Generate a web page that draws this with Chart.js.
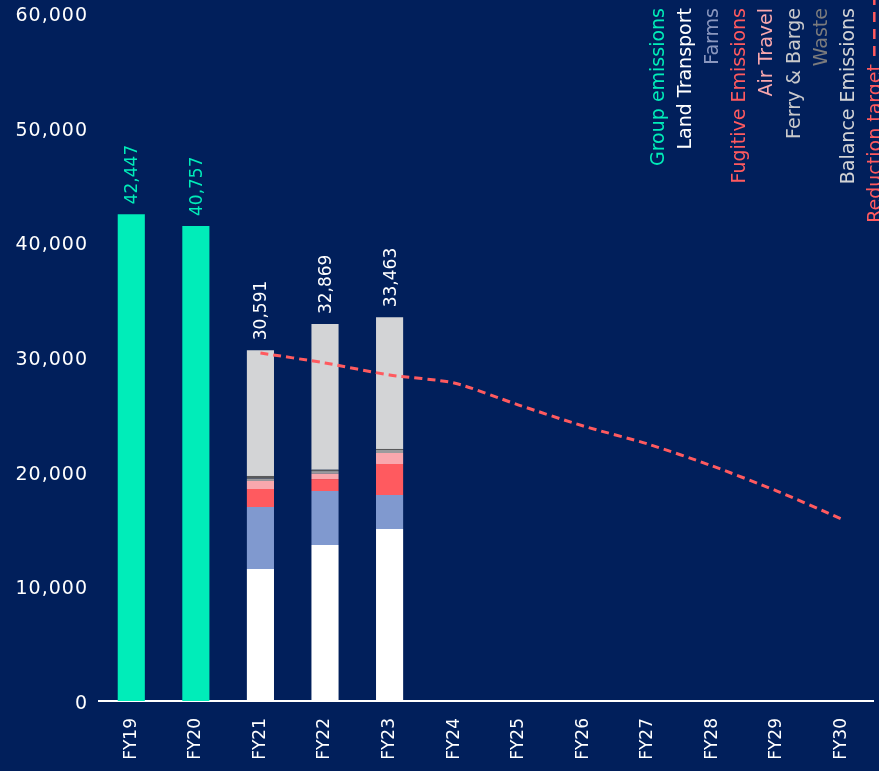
<!DOCTYPE html>
<html lang="en">
<head>
<meta charset="UTF-8">
<title>Group emissions</title>
<script src="https://cdn.jsdelivr.net/npm/chart.js"></script>
<style>
  body { margin: 0; background: #011f5b; }
  #wrap { width: 879px; height: 771px; }
</style>
</head>
<body>
<div id="wrap"><canvas id="emissions"></canvas></div>
<script>
// values (tCO2e)
const years = ['FY19', 'FY20', 'FY21', 'FY22', 'FY23', 'FY24', 'FY25', 'FY26', 'FY27', 'FY28', 'FY29', 'FY30'];
const groupEmissions   = [42447, 41425, null, null, null, null, null, null, null, null, null, null];
const landTransport    = [null, null, 11510, 13600, 15000, null, null, null, null, null, null, null];
const farms            = [null, null, 5410, 4710, 2965, null, null, null, null, null, null, null];
const fugitive         = [null, null, 1570, 1045, 2705, null, null, null, null, null, null, null];
const airTravel        = [null, null, 700, 460, 960, null, null, null, null, null, null, null];
const ferryBarge       = [null, null, 200, 235, 260, null, null, null, null, null, null, null];
const waste            = [null, null, 235, 115, 90, null, null, null, null, null, null, null];
const balance          = [null, null, 10966, 12704, 11483, null, null, null, null, null, null, null];
const reductionTarget  = [null, null, 30350, 29480, 28430, 27730, 25810, 23980, 22410, 20490, 18310, 15870];
// totals printed above the bars
const totalText = ['42,447', '40,757', '30,591', '32,869', '33,463', '', '', '', '', '', '', ''];
const yTicks = [0, 10000, 20000, 30000, 40000, 50000, 60000];

const FONT = '"DejaVu Sans", sans-serif';
const GREEN = '#00edb9';

function barSet(label, data, color) {
    return { type: 'bar', label: label, data: data, backgroundColor: color, order: 1,
             barPercentage: 0.42, categoryPercentage: 1 };
}

// totals on top of the bars, rotated
const totalLabels = {
    id: 'totalLabels',
    afterDatasetsDraw(chart) {
        const ctx = chart.ctx;
        const x = chart.scales.x, y = chart.scales.y;
        ctx.save();
        ctx.font = '17px ' + FONT;
        ctx.textAlign = 'left';
        ctx.textBaseline = 'alphabetic';
        years.forEach((yr, i) => {
            if (!totalText[i]) return;
            let top = 0;
            chart.data.datasets.forEach(ds => {
                if (ds.type === 'bar' && ds.data[i] != null) top += ds.data[i];
            });
            ctx.fillStyle = groupEmissions[i] != null ? GREEN : '#ffffff';
            ctx.save();
            ctx.translate(x.getPixelForValue(i), y.getPixelForValue(top) - 10);
            ctx.rotate(-Math.PI / 2);
            ctx.fillText(totalText[i], 0, 6);
            ctx.restore();
        });
        ctx.restore();
    }
};

// y tick labels drawn by hand so they can be letter-spaced
const yLabels = {
    id: 'yLabels',
    afterDraw(chart) {
        const ctx = chart.ctx;
        const y = chart.scales.y;
        ctx.save();
        ctx.font = '19px ' + FONT;
        ctx.letterSpacing = '1px';
        ctx.fillStyle = '#ffffff';
        ctx.textAlign = 'right';
        ctx.textBaseline = 'alphabetic';
        yTicks.forEach(v => {
            ctx.fillText(v.toLocaleString('en-US'), 88, y.getPixelForValue(v) + 8);
        });
        ctx.restore();
    }
};

// vertical legend in the top right corner
const sideLegend = {
    id: 'sideLegend',
    afterDraw(chart) {
        const ctx = chart.ctx;
        ctx.save();
        ctx.font = '19px ' + FONT;
        ctx.textAlign = 'right';
        ctx.textBaseline = 'alphabetic';
        chart.data.datasets.forEach((ds, i) => {
            const cx = 657 + i * 27.1;
            const isLine = ds.type === 'line';
            const color = isLine ? ds.borderColor : (ds.legendColor || ds.backgroundColor);
            ctx.save();
            ctx.translate(cx, isLine ? 64 : 8);
            ctx.rotate(-Math.PI / 2);
            ctx.fillStyle = color;
            ctx.fillText(ds.label, 0, 7);
            ctx.restore();
            if (isLine) {
                ctx.strokeStyle = color;
                ctx.lineWidth = 2.5;
                ctx.setLineDash([10, 7]);
                ctx.beginPath();
                ctx.moveTo(cx + 0.5, 56);
                ctx.lineTo(cx + 0.5, 0);
                ctx.stroke();
            }
        });
        ctx.restore();
    }
};

new Chart(document.getElementById('emissions'), {
    data: {
        labels: years,
        datasets: [
            barSet('Group emissions', groupEmissions, GREEN),
            barSet('Land Transport', landTransport, '#ffffff'),
            Object.assign(barSet('Farms', farms, '#8099cf'), { legendColor: '#8a97bf' }),
            barSet('Fugitive Emissions', fugitive, '#ff5a5f'),
            barSet('Air Travel', airTravel, '#f9a7ad'),
            Object.assign(barSet('Ferry & Barge', ferryBarge, '#9b9b9d'), { legendColor: '#c9c9cb' }),
            Object.assign(barSet('Waste', waste, '#58595b'), { legendColor: '#7b7b7d' }),
            barSet('Balance Emissions', balance, '#d3d4d6'),
            {
                type: 'line',
                label: 'Reduction target',
                data: reductionTarget,
                stack: 'target',
                order: 0,
                borderColor: '#ff5a5f',
                borderWidth: 3,
                borderDash: [8, 5],
                pointRadius: 0,
                tension: 0.25,
                fill: false
            }
        ]
    },
    options: {
        responsive: true,
        maintainAspectRatio: false,
        animation: false,
        layout: { padding: { top: 13, right: 0, left: 0, bottom: 0 } },
        plugins: {
            legend: { display: false },
            tooltip: { enabled: false }
        },
        scales: {
            x: {
                stacked: true,
                grid: { display: false, drawTicks: false },
                border: { color: '#ffffff', width: 2 },
                ticks: {
                    color: '#ffffff',
                    font: { family: FONT, size: 17 },
                    maxRotation: 90,
                    minRotation: 90,
                    padding: 17
                },
                afterFit: s => { s.height = 70; }
            },
            y: {
                stacked: true,
                min: 0,
                max: 60000,
                grid: { display: false, drawTicks: false },
                border: { display: false },
                afterBuildTicks: s => { s.ticks = yTicks.map(v => ({ value: v })); },
                ticks: { display: false },
                afterFit: s => { s.width = 99; }
            }
        }
    },
    plugins: [totalLabels, yLabels, sideLegend]
});
</script>
</body>
</html>
